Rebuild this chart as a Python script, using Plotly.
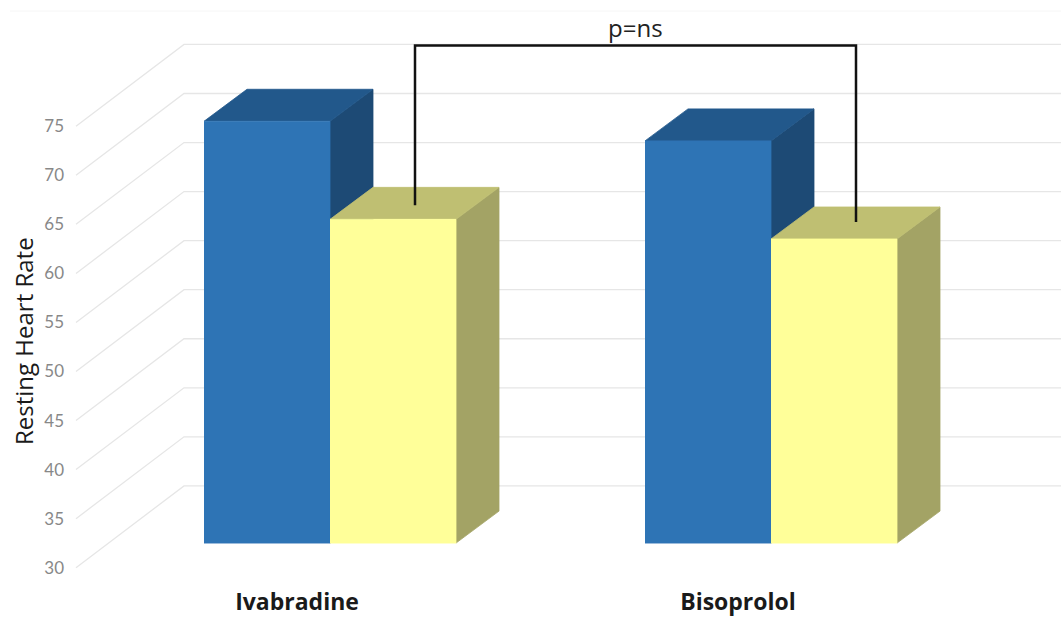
import plotly.graph_objects as go

# ---- data ----
categories = ["Ivabradine", "Bisoprolol"]
series_blue = [73, 71]
series_yellow = [63, 61]
tick_values = [30, 35, 40, 45, 50, 55, 60, 65, 70, 75]
y_title = "Resting Heart Rate"
p_label = "p=ns"

# ---- geometry of the pseudo-3D chart (x axis is in pixels) ----
PX_PER_UNIT = 9.81
LEFT, RIGHT, BOTTOM = 68, 1061, 585
Y_TOP = 30 + 567.7 / PX_PER_UNIT
Y_BOTTOM = 30 - (BOTTOM - 567.7) / PX_PER_UNIT
WALL_DX, WALL_DY = 108, 81.8 / PX_PER_UNIT   # front axis -> back wall
WALL_X0, WALL_X1 = 76, 1061
BAR_LIFT = 24.6 / PX_PER_UNIT                # floor position of bars
BAR_W = 126
DEPTH_DX, DEPTH_DY = 43, 32 / PX_PER_UNIT
CENTERS = [330, 771]
FONT = "Open Sans"

BLUE = dict(front="#2e74b5", top="#22588b", side="#1d4a75")
YELLOW = dict(front="#ffff99", top="#bfbf72", side="#a3a365")

fig = go.Figure()

# wall: diagonals and horizontal gridlines
gx, gy = [], []
for t in tick_values:
    gx += [WALL_X0, WALL_X0 + WALL_DX, WALL_X1, None]
    gy += [t, t + WALL_DY, t + WALL_DY, None]
fig.add_trace(go.Scatter(x=gx, y=gy, mode="lines", line=dict(color="#e6e6e6", width=1.3),
                         hoverinfo="skip", showlegend=False))


def poly(xs, ys, color):
    fig.add_trace(go.Scatter(x=xs, y=ys, mode="lines", fill="toself", fillcolor=color,
                             line=dict(color=color, width=0.8), hoverinfo="skip", showlegend=False))


def bar3d(x0, value, c):
    x1 = x0 + BAR_W
    base = 30 + BAR_LIFT
    top = value + BAR_LIFT
    poly([x1, x1 + DEPTH_DX, x1 + DEPTH_DX, x1],
         [base, base + DEPTH_DY, top + DEPTH_DY, top], c["side"])
    poly([x0, x0 + DEPTH_DX, x1 + DEPTH_DX, x1],
         [top, top + DEPTH_DY, top + DEPTH_DY, top], c["top"])
    poly([x0, x1, x1, x0], [base, base, top, top], c["front"])


for cx, b, y in zip(CENTERS, series_blue, series_yellow):
    bar3d(cx - BAR_W, b, BLUE)
    bar3d(cx, y, YELLOW)

# significance bracket
bx = [c + 63 + 22 for c in CENTERS]
bracket_top = tick_values[-1] + WALL_DY - 0.1
fig.add_trace(go.Scatter(
    x=[bx[0], bx[0], bx[1], bx[1]],
    y=[series_yellow[0] + BAR_LIFT + 1.43, bracket_top, bracket_top, series_yellow[1] + BAR_LIFT + 1.73],
    mode="lines", line=dict(color="#111111", width=2.5), hoverinfo="skip", showlegend=False))

fig.add_annotation(x=(bx[0] + bx[1]) / 2, y=bracket_top + 1.85, text=p_label, showarrow=False,
                   font=dict(family=FONT, size=24, color="#222222"), yanchor="middle")

# y axis title, placed lower than the plot centre as in the reference
fig.add_annotation(xref="paper", yref="paper", x=(23 - LEFT) / (RIGHT - LEFT), y=1 - 341 / BOTTOM,
                   xanchor="center", yanchor="middle",
                   text=y_title, textangle=-90, showarrow=False,
                   font=dict(family=FONT, size=24, color="#1a1a1a"))

fig.add_shape(type="line", xref="paper", yref="paper",
              x0=(10 - LEFT) / (RIGHT - LEFT), x1=1, y0=1 - 11 / BOTTOM, y1=1 - 11 / BOTTOM,
              line=dict(color="#f6f6f6", width=1))

fig.update_layout(
    width=1061, height=617, autosize=False,
    margin=dict(l=LEFT, r=0, t=0, b=617 - BOTTOM, autoexpand=False),
    paper_bgcolor="white", plot_bgcolor="white", showlegend=False,
    font=dict(family=FONT),
    xaxis=dict(range=[LEFT, RIGHT], showgrid=False, zeroline=False, showline=False, ticks="",
               automargin=False,
               tickmode="array", tickvals=[c - 33 for c in CENTERS],
               ticktext=[f"<b>{c}</b>" for c in categories], ticklabelstandoff=1,
               tickfont=dict(family=FONT, size=23, color="#1a1a1a")),
    yaxis=dict(range=[Y_BOTTOM, Y_TOP], showgrid=False, zeroline=False, showline=False, ticks="",
               automargin=False,
               tickmode="array", tickvals=tick_values, ticklabelstandoff=3,
               tickfont=dict(family="Lato", size=17, color="#888888")),
)

fig.write_html("out.html", post_script="document.body.style.margin='0';",
               config=dict(displayModeBar=False))
